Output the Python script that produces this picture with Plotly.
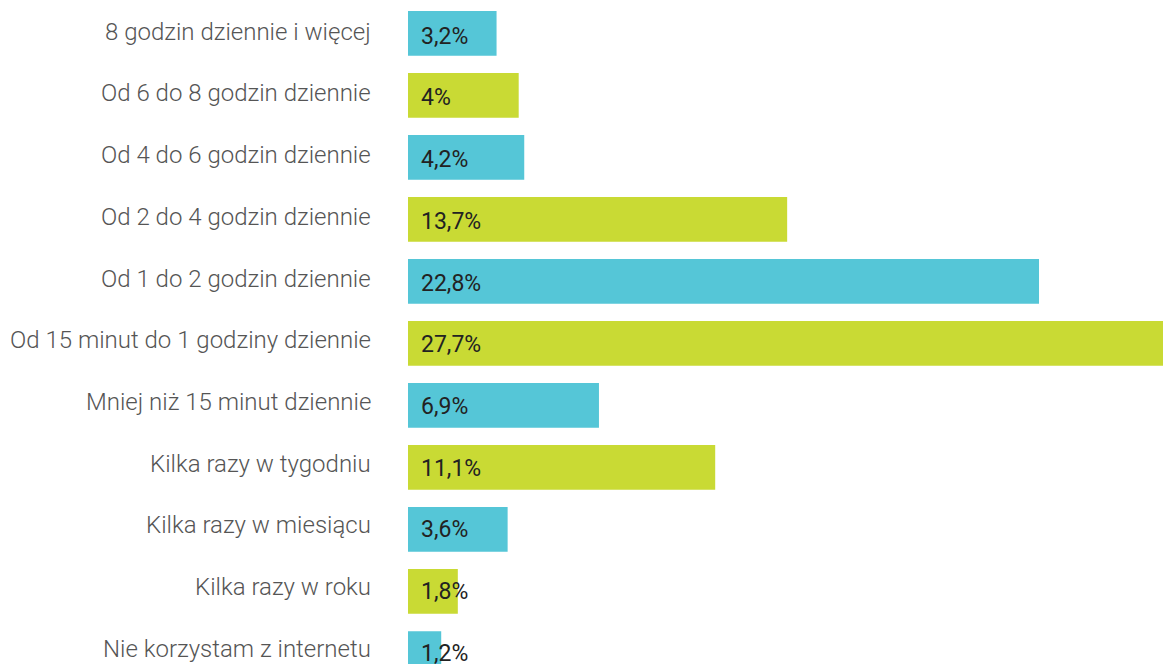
import plotly.graph_objects as go

categories = [
    "8 godzin dziennie i więcej",
    "Od 6 do 8 godzin dziennie",
    "Od 4 do 6 godzin dziennie",
    "Od 2 do 4 godzin dziennie",
    "Od 1 do 2 godzin dziennie",
    "Od 15 minut do 1 godziny dziennie",
    "Mniej niż 15 minut dziennie",
    "Kilka razy w tygodniu",
    "Kilka razy w miesiącu",
    "Kilka razy w roku",
    "Nie korzystam z internetu",
]
values = [3.2, 4.0, 4.2, 13.7, 22.8, 27.7, 6.9, 11.1, 3.6, 1.8, 1.2]
value_labels = ["3,2%", "4%", "4,2%", "13,7%", "22,8%", "27,7%", "6,9%", "11,1%", "3,6%", "1,8%", "1,2%"]

CYAN = "#55C6D7"
LIME = "#C9DA34"
colors = [CYAN if i % 2 == 0 else LIME for i in range(len(categories))]

fig = go.Figure()
fig.add_trace(go.Bar(
    x=values,
    y=categories,
    orientation="h",
    marker=dict(color=colors, line=dict(width=0)),
    width=0.72,
    hoverinfo="skip",
))

# text rows sit on a slightly tighter pitch than the bars in the original
DRIFT = 0.33

for i, (c, t) in enumerate(zip(categories, value_labels)):
    fig.add_annotation(
        x=0, y=c, text=t, showarrow=False,
        xanchor="left", yanchor="middle", xshift=11, yshift=-3 + DRIFT * i,
        font=dict(family="Roboto", size=23, color="#222222"),
    )

for i, c in enumerate(categories):
    fig.add_annotation(
        xref="paper", x=0, y=c, text=c, showarrow=False,
        xanchor="right", yanchor="middle", xshift=-35, yshift=1.5 + DRIFT * i,
        font=dict(family="Roboto", size=24, color="#555555", weight=300),
    )

fig.update_layout(
    width=1163, height=664,
    margin=dict(l=408, r=0, t=0, b=0),
    paper_bgcolor="white", plot_bgcolor="white",
    showlegend=False,
    xaxis=dict(range=[0, 27.28], visible=False, fixedrange=True),
    yaxis=dict(
        categoryorder="array", categoryarray=categories,
        range=[10.17, -0.537],
        showgrid=False, zeroline=False, showline=False,
        showticklabels=False, ticks="", automargin=False, fixedrange=True,
    ),
)

fig.write_html(
    "out.html",
    config={"displayModeBar": False},
    post_script="document.body.style.margin='0';document.body.style.overflow='hidden';",
)
